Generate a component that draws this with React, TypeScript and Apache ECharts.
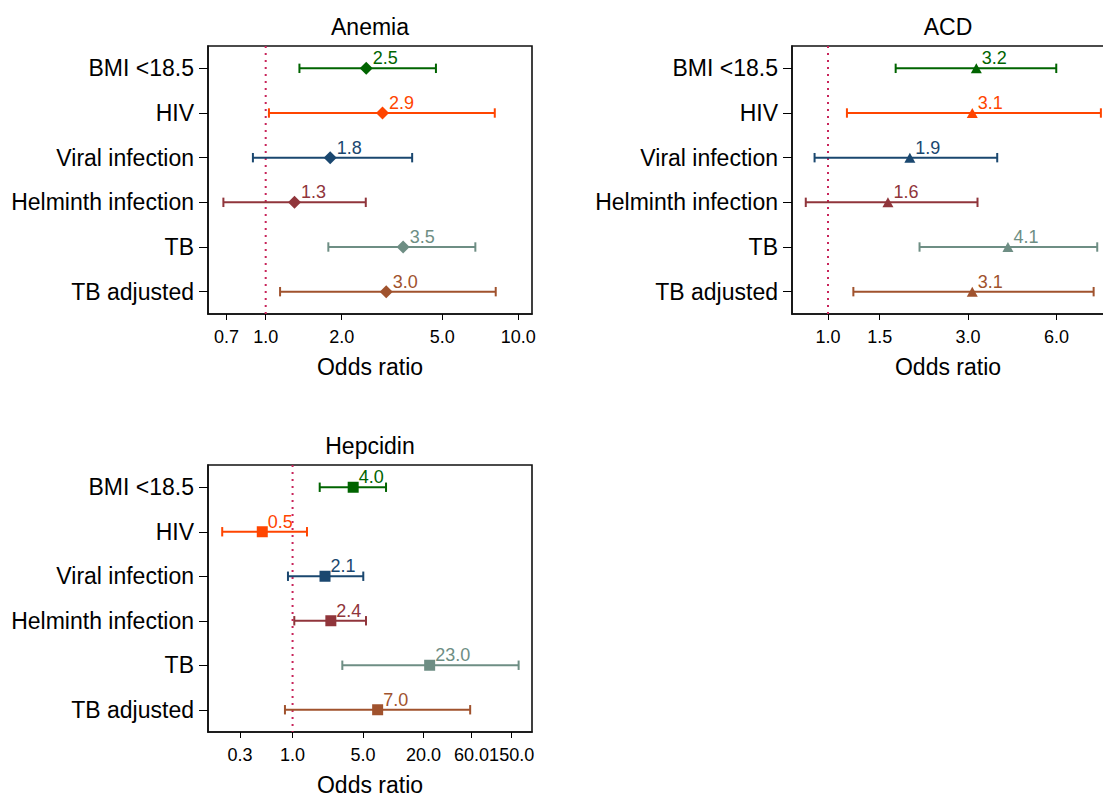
import React, { useEffect, useRef } from "react";
import * as echarts from "echarts";

// Risk factors, listed top to bottom in every panel
const categories = ["BMI <18.5", "HIV", "Viral infection", "Helminth infection", "TB", "TB adjusted"];
const colors = ["#006400", "#ff4500", "#1a476f", "#90353b", "#6e8e84", "#a0522d"];

// Anemia: odds ratios with 95% CI
const anemiaOR = [2.5, 2.9, 1.8, 1.3, 3.5, 3.0];
const anemiaLow = [1.36, 1.03, 0.89, 0.68, 1.77, 1.14];
const anemiaHigh = [4.72, 8.07, 3.8, 2.49, 6.76, 8.14];
const anemiaTicks = [0.7, 1, 2, 5, 10];

// Anemia of chronic disease
const acdOR = [3.2, 3.1, 1.9, 1.6, 4.1, 3.1];
const acdLow = [1.7, 1.16, 0.9, 0.84, 2.05, 1.22];
const acdHigh = [5.99, 8.5, 3.77, 3.23, 8.26, 8.03];
const acdTicks = [1, 1.5, 3, 6];

// Elevated hepcidin
const hepcidinOR = [4.0, 0.5, 2.1, 2.4, 23.0, 7.0];
const hepcidinLow = [1.86, 0.2, 0.9, 1.04, 3.12, 0.84];
const hepcidinHigh = [8.48, 1.39, 5.04, 5.36, 176, 58.1];
const hepcidinTicks = [0.3, 1, 5, 20, 60, 150];

// No-effect reference (odds ratio of 1)
const referenceOR = [1];

const FONT = "'Liberation Sans', Arial, Helvetica, sans-serif";

type Panel = {
  title: string;
  or: number[];
  low: number[];
  high: number[];
  ticks: number[];
  range: [number, number];
  symbol: string;
  size: number | number[];
  rect: { left: number; top: number; width: number; height: number };
};

const panels: Panel[] = [
  {
    title: "Anemia",
    or: anemiaOR,
    low: anemiaLow,
    high: anemiaHigh,
    ticks: anemiaTicks,
    range: [0.591, 11.33],
    symbol: "diamond",
    size: 13,
    rect: { left: 208, top: 46, width: 324, height: 268 },
  },
  {
    title: "ACD",
    or: acdOR,
    low: acdLow,
    high: acdHigh,
    ticks: acdTicks,
    range: [0.754, 8.71],
    symbol: "triangle",
    size: [11, 10],
    rect: { left: 792, top: 46, width: 312, height: 268 },
  },
  {
    title: "Hepcidin",
    or: hepcidinOR,
    low: hepcidinLow,
    high: hepcidinHigh,
    ticks: hepcidinTicks,
    range: [0.1445, 239],
    symbol: "rect",
    size: 11,
    rect: { left: 208, top: 465, width: 324, height: 267 },
  },
];

function buildOption() {
  const grid: any[] = [];
  const xAxis: any[] = [];
  const yAxis: any[] = [];
  const series: any[] = [];
  const graphic: any[] = [];

  panels.forEach((p, i) => {
    const tickLogs = p.ticks.map((t) => Math.log10(t));
    const tickLabel = (v: number) => {
      let best = p.ticks[0];
      p.ticks.forEach((t) => {
        if (Math.abs(Math.log10(t) - v) < Math.abs(Math.log10(best) - v)) best = t;
      });
      return best.toFixed(1);
    };

    grid.push({
      ...p.rect,
      show: true,
      borderColor: "#111",
      borderWidth: 1.6,
      backgroundColor: "transparent",
      containLabel: false,
      outerBoundsMode: "none",
    });

    graphic.push({
      type: "text",
      x: p.rect.left + p.rect.width / 2,
      y: p.rect.top - 19,
      silent: true,
      style: {
        text: p.title,
        fill: "#000",
        font: `23px ${FONT}`,
        textAlign: "center",
        textVerticalAlign: "middle",
      },
    });

    xAxis.push({
      type: "value",
      gridIndex: i,
      min: Math.log10(p.range[0]),
      max: Math.log10(p.range[1]),
      name: "Odds ratio",
      nameLocation: "middle",
      nameGap: 43,
      nameTextStyle: { fontSize: 23, lineHeight: 19, color: "#000", fontFamily: FONT },
      axisLine: { show: true, onZero: false, lineStyle: { color: "#111", width: 1.6 } },
      axisTick: { show: true, length: 6, customValues: tickLogs, lineStyle: { color: "#000", width: 1 } },
      axisLabel: {
        customValues: tickLogs,
        formatter: (v: number) => tickLabel(v),
        fontSize: 18,
        color: "#000",
        fontFamily: FONT,
        margin: 14,
      },
      splitLine: { show: false },
    });

    yAxis.push({
      type: "category",
      gridIndex: i,
      data: categories,
      inverse: true,
      boundaryGap: true,
      axisLine: { show: true, onZero: false, lineStyle: { color: "#111", width: 1.6 } },
      axisTick: { show: true, alignWithLabel: true, length: 9, lineStyle: { color: "#000", width: 1 } },
      axisLabel: { fontSize: 23, color: "#000", fontFamily: FONT, margin: 14 },
      splitLine: { show: false },
    });

    // Dotted vertical line at OR = 1, spanning the plot height
    series.push({
      type: "custom",
      xAxisIndex: i,
      yAxisIndex: i,
      z: 1,
      silent: true,
      data: referenceOR.map((v) => [Math.log10(v), 0]),
      encode: { x: 0, y: 1 },
      renderItem: (params: any, api: any) => {
        const x = api.coord([api.value(0), 0])[0];
        const cs = params.coordSys;
        return {
          type: "line",
          shape: { x1: x, y1: cs.y, x2: x, y2: cs.y + cs.height },
          style: { stroke: "#c8245a", lineWidth: 2, lineDash: [2, 5] },
        };
      },
    });

    // Confidence intervals with end caps
    series.push({
      type: "custom",
      xAxisIndex: i,
      yAxisIndex: i,
      z: 2,
      data: categories.map((_, k) => [Math.log10(p.low[k]), Math.log10(p.high[k]), k]),
      encode: { x: [0, 1], y: 2 },
      renderItem: (params: any, api: any) => {
        const k = params.dataIndex;
        const a = api.coord([api.value(0), k]);
        const b = api.coord([api.value(1), k]);
        const h = 4.7;
        const style = { stroke: colors[k], lineWidth: 2 };
        return {
          type: "group",
          children: [
            { type: "line", shape: { x1: a[0], y1: a[1], x2: b[0], y2: b[1] }, style },
            { type: "line", shape: { x1: a[0], y1: a[1] - h, x2: a[0], y2: a[1] + h }, style },
            { type: "line", shape: { x1: b[0], y1: b[1] - h, x2: b[0], y2: b[1] + h }, style },
          ],
        };
      },
    });

    // Point estimates with value labels
    series.push({
      type: "scatter",
      xAxisIndex: i,
      yAxisIndex: i,
      z: 3,
      symbol: p.symbol,
      symbolSize: p.size,
      data: p.or.map((v, k) => ({
        value: [Math.log10(v), k],
        itemStyle: { color: colors[k], opacity: 1 },
        label: { color: colors[k] },
      })),
      label: {
        show: true,
        position: "right",
        distance: 0,
        offset: [0, -10],
        fontSize: 18,
        fontFamily: FONT,
        formatter: (q: any) => p.or[q.dataIndex].toFixed(1),
      },
    });
  });

  return {
    animation: false,
    backgroundColor: "#fff",
    textStyle: { fontFamily: FONT },
    grid,
    xAxis,
    yAxis,
    series,
    graphic,
  };
}

export default function App() {
  const ref = useRef<HTMLDivElement>(null);

  useEffect(() => {
    if (!ref.current) return;
    const chart = echarts.init(ref.current, undefined, { renderer: "svg" });
    chart.setOption(buildOption() as any);
    return () => chart.dispose();
  }, []);

  return (
    <div
      ref={ref}
      style={{ position: "fixed", left: 0, top: 0, width: 1103, height: 796, background: "#fff" }}
    />
  );
}
